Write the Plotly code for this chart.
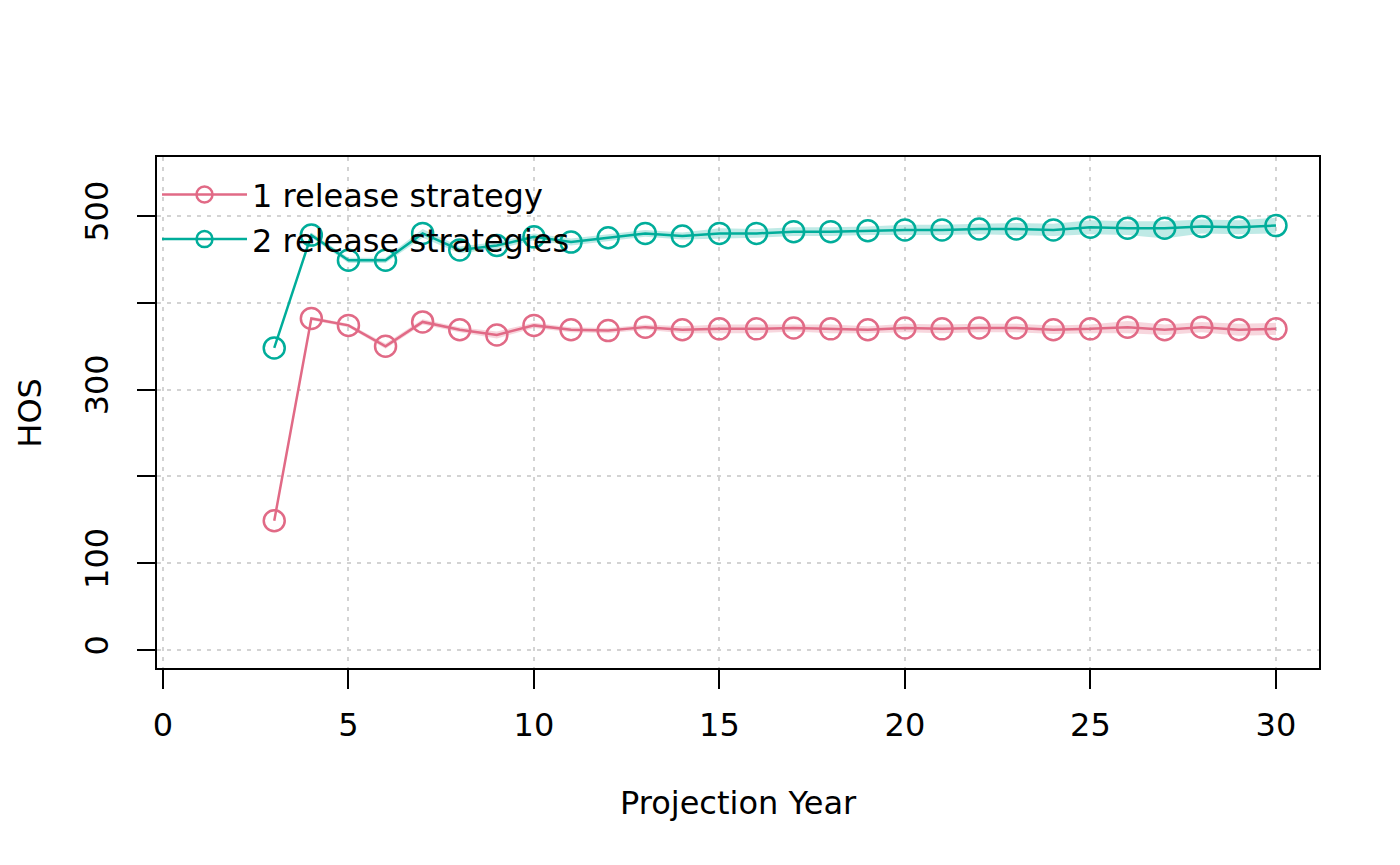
import plotly.graph_objects as go

# Projection years and HOS per scenario (median with shaded band)
years = list(range(3, 31))

hos_one = [149, 382, 374, 350, 378, 369, 363, 374, 369, 368, 372, 369, 370, 370,
           371, 370, 369, 371, 370, 371, 371, 369, 370, 372, 369, 372, 369, 370]
hos_one_lo = [148, 380, 372, 347, 375, 366, 359, 371, 366, 365, 369, 365, 365, 365,
              367, 365, 365, 366, 365, 366, 366, 364, 365, 365, 363, 366, 362, 363]
hos_one_hi = [150, 384, 376, 353, 381, 372, 367, 377, 372, 371, 375, 373, 375, 375,
              375, 375, 373, 376, 375, 376, 376, 374, 375, 379, 375, 378, 376, 377]

hos_two = [348, 478, 449, 449, 480, 461, 466, 476, 470, 475, 480, 477, 480, 480,
           482, 482, 483, 484, 484, 485, 485, 484, 487, 486, 486, 488, 487, 489]
hos_two_lo = [347, 475, 446, 446, 475, 457, 462, 472, 466, 471, 476, 473, 474, 475,
              477, 477, 478, 478, 478, 479, 478, 477, 479, 478, 474, 480, 479, 480]
hos_two_hi = [349, 481, 452, 452, 485, 465, 470, 480, 474, 479, 484, 481, 486, 485,
              487, 487, 488, 490, 490, 491, 492, 491, 495, 494, 494, 496, 495, 498]

names = ["1 release strategy", "2 release strategies"]
colors = ["#E16A86", "#00AD9A"]
fills = ["rgba(225,106,134,0.28)", "rgba(0,173,154,0.25)"]

FONT = "DejaVu Sans"
FSIZE = 32

fig = go.Figure()

series = [(hos_one, hos_one_lo, hos_one_hi), (hos_two, hos_two_lo, hos_two_hi)]

# ribbons first so lines sit on top
for (mid, lo, hi), fc in zip(series, fills):
    fig.add_trace(go.Scatter(x=years, y=lo, mode="lines", line=dict(width=0),
                             showlegend=False, hoverinfo="skip"))
    fig.add_trace(go.Scatter(x=years, y=hi, mode="lines", line=dict(width=0),
                             fill="tonexty", fillcolor=fc,
                             showlegend=False, hoverinfo="skip"))

for (mid, lo, hi), name, col in zip(series, names, colors):
    fig.add_trace(go.Scatter(
        x=years, y=mid, mode="lines+markers", name=name,
        line=dict(color=col, width=2.5),
        marker=dict(symbol="circle-open", size=21, color=col,
                    line=dict(color=col, width=2.5)),
    ))

# the page body adds an 8px offset, margins are trimmed to match
fig.update_layout(
    width=1400, height=865,
    margin=dict(l=149, r=89, t=149, b=205),
    paper_bgcolor="white", plot_bgcolor="white",
    font=dict(family=FONT, size=FSIZE, color="black"),
    showlegend=True,
    legend=dict(x=0.0, y=0.98, xanchor="left", yanchor="top",
                traceorder="normal",
                bgcolor="rgba(0,0,0,0)", borderwidth=0,
                font=dict(family=FONT, size=FSIZE, color="black"),
                itemwidth=85, tracegroupgap=0),
)

fig.update_xaxes(
    range=[-0.16, 31.16], tickvals=[0, 5, 10, 15, 20, 25, 30],
    showgrid=True, gridcolor="#d3d3d3", griddash="4px,6px", gridwidth=2,
    zeroline=False, showline=True, linecolor="black", linewidth=2, mirror=True,
    ticks="outside", ticklen=19, tickwidth=2, tickcolor="black",
    ticklabelstandoff=9,
)
fig.update_yaxes(
    range=[-20.7, 568], tickvals=[0, 100, 200, 300, 400, 500],
    ticktext=["0", "100", "", "300", "", "500"], tickangle=-90,
    showgrid=True, gridcolor="#d3d3d3", griddash="4px,6px", gridwidth=2,
    zeroline=False, showline=True, linecolor="black", linewidth=2, mirror=True,
    ticks="outside", ticklen=18, tickwidth=2, tickcolor="black",
    ticklabelstandoff=16,
)

fig.add_annotation(text="Projection Year", xref="paper", yref="paper",
                   x=0.5, y=-0.264, xanchor="center", yanchor="middle",
                   showarrow=False, font=dict(family=FONT, size=FSIZE))
fig.add_annotation(text="HOS", xref="paper", yref="paper",
                   x=-0.110, y=0.5, xanchor="center", yanchor="middle",
                   textangle=-90, showarrow=False, font=dict(family=FONT, size=FSIZE))

fig.write_html("out.html")
